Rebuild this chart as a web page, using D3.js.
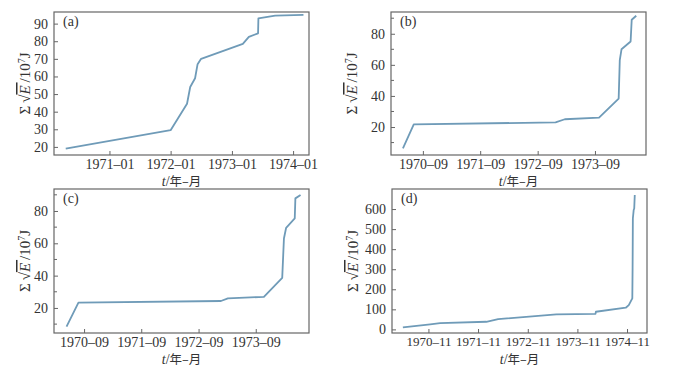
<!DOCTYPE html>
<html>
<head>
<meta charset="utf-8">
<script src="https://cdn.jsdelivr.net/npm/d3@7"></script>
<style>
  body { margin: 0; background: #fff; }
  svg text { font-family: "Liberation Serif", serif; fill: #333; }
  svg .cjk { font-family: "Noto Sans CJK SC", sans-serif; }
</style>
</head>
<body>
<svg id="chart" width="676" height="370"></svg>
<script>
// panel (a)
const datesA = ["1970-04-15","1972-01-01","1972-04-08","1972-04-27","1972-05-26","1972-06-10","1972-07-01","1973-03-07","1973-04-12","1973-06-06","1973-06-08","1973-09-16","1974-03-04"];
const valuesA = [19, 29.5, 44.5, 54, 59, 67, 70, 78.5, 82.5, 84.5, 93, 94.5, 95];
const xTicksA = ["1971-01","1972-01","1973-01","1974-01"];
const yTicksA = [20, 30, 40, 50, 60, 70, 80, 90];

// panel (b)
const datesB = ["1970-04-27","1970-07-05","1972-12-24","1973-02-21","1973-09-27","1974-01-30","1974-02-06","1974-02-17","1974-04-16","1974-04-23","1974-05-22"];
const valuesB = [6.3, 21.7, 23, 25, 26, 38.3, 63, 70, 75, 89, 91.6];
const xTicksB = ["1970-09","1971-09","1972-09","1973-09"];
const yTicksB = [20, 40, 60, 80];

// panel (c)
const datesC = ["1970-05-12","1970-07-27","1973-01-22","1973-03-07","1973-10-23","1974-02-17","1974-02-28","1974-03-14","1974-05-08","1974-05-12","1974-06-14"];
const valuesC = [8.4, 23.3, 24.3, 25.9, 26.9, 38.6, 63, 69.6, 75.4, 87.8, 89.9];
const xTicksC = ["1970-09","1971-09","1972-09","1973-09"];
const yTicksC = [20, 40, 60, 80];

// panel (d)
const datesD = ["1970-04-27","1970-11-14","1971-01-26","1972-01-01","1972-03-28","1973-05-30","1974-03-14","1974-03-17","1974-10-23","1974-11-14","1974-12-10","1974-12-12","1974-12-14","1974-12-20","1974-12-24","1974-12-28"];
const valuesD = [10, 25, 31, 38, 51, 75, 77, 88, 108, 121, 155, 304, 553, 595, 603, 670];
const xTicksD = ["1970-11","1971-11","1972-11","1973-11","1974-11"];
const yTicksD = [0, 100, 200, 300, 400, 500, 600];

const parseDay = d3.timeParse("%Y-%m-%d");
const parseMonth = d3.timeParse("%Y-%m");
const fmtMonth = d3.timeFormat("%Y\u2013%m");

const panels = [
  { tag: "(a)", dates: datesA, values: valuesA, xTicks: xTicksA, yTicks: yTicksA, minor: [], titleX: -24, xFont: 14,
    xDom: ["1970-02-04", "1974-04-06"], yDom: [15.4, 96.6], box: [54, 12, 309, 155] },
  { tag: "(b)", dates: datesB, values: valuesB, xTicks: xTicksB, yTicks: yTicksB, minor: [10, 30, 50, 70, 90], titleX: -34, xFont: 14,
    xDom: ["1970-02-10", "1974-07-23"], yDom: [2, 94], box: [391, 12, 646, 155] },
  { tag: "(c)", dates: datesC, values: valuesC, xTicks: xTicksC, yTicks: yTicksC, minor: [10, 30, 50, 70, 90], titleX: -24, xFont: 14,
    xDom: ["1970-02-21", "1974-08-07"], yDom: [4.5, 93.6], box: [54, 189, 309, 333] },
  { tag: "(d)", dates: datesD, values: valuesD, xTicks: xTicksD, yTicks: yTicksD, minor: [], titleX: -34, xFont: 13,
    xDom: ["1970-02-06", "1975-03-28"], yDom: [-18, 700], box: [392, 189, 647, 333] }
];

const svg = d3.select("#chart");

panels.forEach(p => {
  const [x0, y0, x1, y1] = p.box;
  const w = x1 - x0, h = y1 - y0;
  const g = svg.append("g").attr("transform", `translate(${x0},${y0})`);

  const x = d3.scaleTime().domain(p.xDom.map(parseDay)).range([0, w]);
  const y = d3.scaleLinear().domain(p.yDom).range([h, 0]);

  // x axis, ticks pointing inward
  const xa = g.append("g").attr("transform", `translate(0,${h})`)
    .call(d3.axisBottom(x).tickValues(p.xTicks.map(parseMonth)).tickFormat(fmtMonth).tickSizeInner(-4).tickSizeOuter(0).tickPadding(4));
  // y axis, ticks pointing inward
  const ya = g.append("g")
    .call(d3.axisLeft(y).tickValues(p.yTicks).tickSizeInner(-4).tickSizeOuter(0).tickPadding(6));
  [xa, ya].forEach(a => {
    a.attr("font-family", null);
    a.select(".domain").remove();
    a.selectAll("line").attr("stroke", "#666");
    a.selectAll("text").style("font-family", "'Liberation Serif', serif").attr("fill", "#333");
  });
  xa.selectAll("text").style("font-size", p.xFont + "px");
  ya.selectAll("text").style("font-size", "14px");
  // minor y ticks
  g.append("g").selectAll("line").data(p.minor).join("line")
    .attr("x1", 0).attr("x2", 3).attr("y1", d => y(d)).attr("y2", d => y(d))
    .attr("stroke", "#666");

  // frame
  g.append("rect").attr("width", w).attr("height", h)
    .attr("fill", "none").attr("stroke", "#666").attr("stroke-width", 1.2);

  // line
  const pts = p.dates.map((d, i) => ({ t: parseDay(d), v: p.values[i] }));
  g.append("path").datum(pts)
    .attr("fill", "none").attr("stroke", "#6f9bb8").attr("stroke-width", 1.8)
    .attr("stroke-linejoin", "round")
    .attr("d", d3.line().x(d => x(d.t)).y(d => y(d.v)));

  // panel tag
  g.append("text").attr("x", 9).attr("y", 14).style("font-size", "14px").text(p.tag);

  // x title
  const xt = g.append("text").attr("x", w / 2).attr("y", h + 31).attr("text-anchor", "middle").style("font-size", "14px");
  xt.append("tspan").style("font-style", "italic").text("t");
  xt.append("tspan").text("/");
  xt.append("tspan").attr("class", "cjk").style("font-size", "12.5px").text("年–月");

  // y title
  const yt = g.append("text")
    .attr("transform", `translate(${p.titleX},${h / 2}) rotate(-90)`)
    .attr("text-anchor", "middle").style("font-size", "15px");
  yt.append("tspan").text("Σ\u2009√");
  yt.append("tspan").style("font-style", "italic").style("text-decoration", "overline").text("E\u2009");
  yt.append("tspan").text("/10");
  yt.append("tspan").attr("dy", -5).style("font-size", "10px").text("7");
  yt.append("tspan").attr("dy", 5).text("J");
});
</script>
</body>
</html>
